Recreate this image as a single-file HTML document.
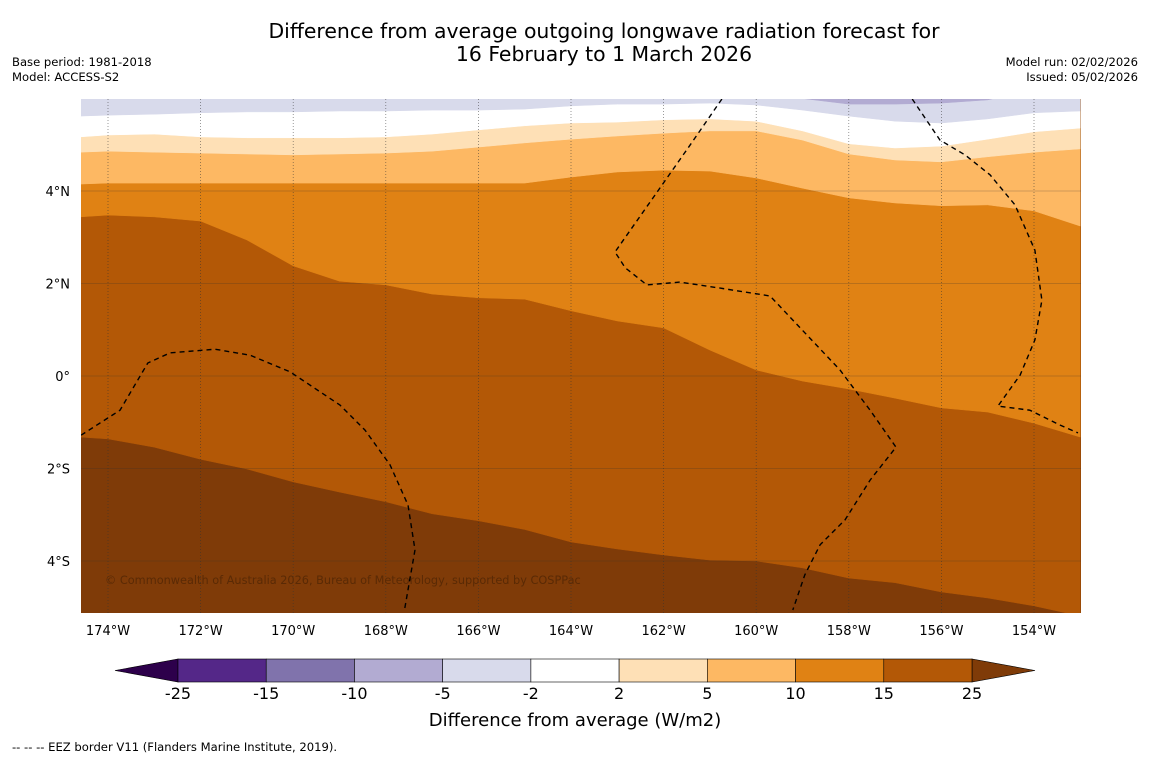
<!DOCTYPE html>
<html><head><meta charset="utf-8"><style>
body{margin:0;background:#fff;font-family:"Liberation Sans","DejaVu Sans",sans-serif;}
svg text{font-family:"DejaVu Sans","Liberation Sans",sans-serif;}
</style></head><body>
<svg id="c" width="1150" height="758" viewBox="0 0 1150 758" xmlns="http://www.w3.org/2000/svg">
<text x="604" y="38" font-size="20.4" text-anchor="middle">Difference from average outgoing longwave radiation forecast for</text>
<text x="604" y="61" font-size="20.4" text-anchor="middle">16 February to 1 March 2026</text>
<text x="12" y="66" font-size="11.6">Base period: 1981-2018</text>
<text x="12" y="81" font-size="11.6">Model: ACCESS-S2</text>
<text x="1138" y="66" font-size="11.6" text-anchor="end">Model run: 02/02/2026</text>
<text x="1138" y="81" font-size="11.6" text-anchor="end">Issued: 05/02/2026</text>
<defs><clipPath id="mc"><rect x="81" y="99" width="1000" height="514"/></clipPath></defs>
<g id="map" clip-path="url(#mc)"></g>
<g id="ax"></g>
<g id="cb"></g>
<text x="575" y="726" font-size="18" text-anchor="middle">Difference from average (W/m2)</text>
<text x="12" y="751" font-size="11.6">--  --  -- EEZ border V11 (Flanders Marine Institute, 2019).</text>
</svg>
<script>
const lons=[-174.6,-174,-173,-172,-171,-170,-169,-168,-167,-166,-165,-164,-163,-162,-161,-160,-159,-158,-157,-156,-155,-154,-153];
const b25=[-1.32,-1.36,-1.54,-1.80,-2.01,-2.29,-2.51,-2.72,-2.98,-3.13,-3.32,-3.59,-3.74,-3.87,-3.98,-4.00,-4.15,-4.37,-4.47,-4.67,-4.80,-4.97,-5.19];
const b15=[3.44,3.48,3.44,3.35,2.94,2.38,2.05,1.97,1.77,1.69,1.66,1.41,1.19,1.04,0.56,0.13,-0.11,-0.28,-0.48,-0.69,-0.78,-1.02,-1.32];
const b10=[4.15,4.17,4.17,4.17,4.17,4.17,4.17,4.17,4.17,4.17,4.17,4.30,4.41,4.45,4.43,4.28,4.06,3.85,3.74,3.68,3.70,3.57,3.24];
const b5=[4.84,4.86,4.84,4.82,4.80,4.78,4.80,4.82,4.86,4.95,5.04,5.12,5.19,5.25,5.30,5.30,5.10,4.80,4.67,4.63,4.74,4.84,4.91];
const b2=[5.17,5.21,5.23,5.17,5.15,5.15,5.15,5.17,5.23,5.32,5.41,5.47,5.49,5.54,5.56,5.51,5.30,5.02,4.93,4.97,5.12,5.28,5.36];
const bm2=[5.62,5.64,5.66,5.69,5.71,5.71,5.73,5.73,5.75,5.75,5.77,5.84,5.88,5.88,5.90,5.86,5.75,5.62,5.51,5.47,5.56,5.69,5.73];
const bm5=[6.2,6.2,6.2,6.2,6.2,6.2,6.2,6.2,6.2,6.2,6.2,6.2,6.2,6.2,6.2,6.2,6.0,5.88,5.88,5.90,5.97,6.2,6.2];
const levels=[-25,-15,-10,-5,-2,2,5,10,15,25];
const colors=["#542788","#8073ac","#b2abd2","#d8daeb","#ffffff","#fee0b6","#fdb863","#e08214","#b35806"];
const lowColor="#2d004b", highColor="#7f3b08";
const eez1Lon=[-174.58,-173.74,-173.14,-172.66,-171.69,-170.93,-170.07,-168.99,-168.45,-167.91,-167.52,-167.37,-167.59];
const eez1Lat=[-1.28,-0.74,0.28,0.50,0.58,0.45,0.09,-0.63,-1.17,-1.92,-2.79,-3.76,-5.02];
const eez2Lon=[-160.74,-161.43,-163.05,-162.83,-162.36,-161.65,-160.78,-159.70,-159.05,-158.19,-157.54,-156.98,-157.54,-158.08,-158.62,-158.95,-159.21];
const eez2Lat=[5.99,4.99,2.68,2.34,1.97,2.03,1.90,1.73,1.04,0.13,-0.74,-1.54,-2.25,-3.11,-3.65,-4.30,-5.06];
const eez3Lon=[-156.63,-156.03,-155.49,-154.95,-154.41,-153.98,-153.83,-153.98,-154.30,-154.78,-154.09,-153.44,-153.05];
const eez3Lat=[5.99,5.10,4.78,4.35,3.70,2.72,1.64,0.78,0.02,-0.65,-0.74,-1.06,-1.23];
const lonTicks=[-174,-172,-170,-168,-166,-164,-162,-160,-158,-156,-154];
const latTicks=[4,2,0,-2,-4];
const NS="http://www.w3.org/2000/svg";
const X=lon=>108+(lon+174)*46.3, Y=lat=>191-(lat-4)*46.25;
function mk(t,a,p){const e=document.createElementNS(NS,t);for(const k in a)e.setAttribute(k,a[k]);p.appendChild(e);return e;}
const map=document.getElementById('map');
let r=mk('rect',{x:81,y:99,width:1000,height:514,fill:highColor},map);


const bands=[[b25,colors[8],'band-15-25'],[b15,colors[7],'band-10-15'],[b10,colors[6],'band-5-10'],[b5,colors[5],'band-2-5'],[b2,colors[4],'band-neutral'],[bm2,colors[3],'band-minus5-minus2'],[bm5,colors[2],'band-minus10-minus5']];
bands.forEach(([b,c,n])=>{
  let d='M'+X(lons[0])+',90';
  lons.forEach((l,i)=>{d+=' L'+X(l).toFixed(1)+','+Y(b[i]).toFixed(1);});
  d+=' L'+X(lons[lons.length-1])+',90 Z';
  const p=mk('path',{d:d,fill:c,stroke:c,'stroke-width':0.5},map);
  
  
});
const ax=document.getElementById('ax');
lonTicks.forEach(l=>{
  const g=mk('line',{x1:X(l),x2:X(l),y1:99,y2:613,stroke:'#333','stroke-width':0.7,'stroke-dasharray':'1,2',opacity:0.7},map);
  
  
  const t=mk('text',{x:X(l),y:635,'font-size':13,'text-anchor':'middle'},ax);
  t.textContent=Math.abs(l)+'°W';
  
  
});
latTicks.forEach(l=>{
  const g=mk('line',{x1:81,x2:1081,y1:Y(l),y2:Y(l),stroke:'#333','stroke-width':0.6,opacity:0.45},map);
  
  
  const t=mk('text',{x:70,y:Y(l)+5,'font-size':13,'text-anchor':'end'},ax);
  t.textContent=l===0?'0°':Math.abs(l)+'°'+(l>0?'N':'S');
  
  
});
[[eez1Lon,eez1Lat],[eez2Lon,eez2Lat],[eez3Lon,eez3Lat]].forEach(([lo,la])=>{
  const pts=lo.map((l,i)=>X(l).toFixed(1)+','+Y(la[i]).toFixed(1)).join(' ');
  const p=mk('polyline',{points:pts,fill:'none',stroke:'#000','stroke-width':1.4,'stroke-dasharray':'5,4'},map);
  
  
});
const cp=mk('text',{x:105,y:584,'font-size':11.3,fill:'#5a2a05'},map);
cp.textContent='© Commonwealth of Australia 2026, Bureau of Meteorology, supported by COSPPac';


const cb=document.getElementById('cb');
const cx0=178,cx1=972,cy=659,ch=23,bw=(cx1-cx0)/colors.length;
let tl=mk('polygon',{points:`115,${cy+ch/2} ${cx0},${cy} ${cx0},${cy+ch}`,fill:lowColor,stroke:'#000','stroke-width':0.6},cb);


let tr=mk('polygon',{points:`1035,${cy+ch/2} ${cx1},${cy} ${cx1},${cy+ch}`,fill:highColor,stroke:'#000','stroke-width':0.6},cb);


colors.forEach((c,i)=>{
  const b=mk('rect',{x:cx0+i*bw,y:cy,width:bw,height:ch,fill:c,stroke:'#000','stroke-width':0.6},cb);
  
  
});
levels.forEach((v,i)=>{
  const t=mk('text',{x:cx0+i*bw,y:699,'font-size':16,'text-anchor':'middle'},cb);
  t.textContent=v;
  
  
});
</script>
</body></html>
